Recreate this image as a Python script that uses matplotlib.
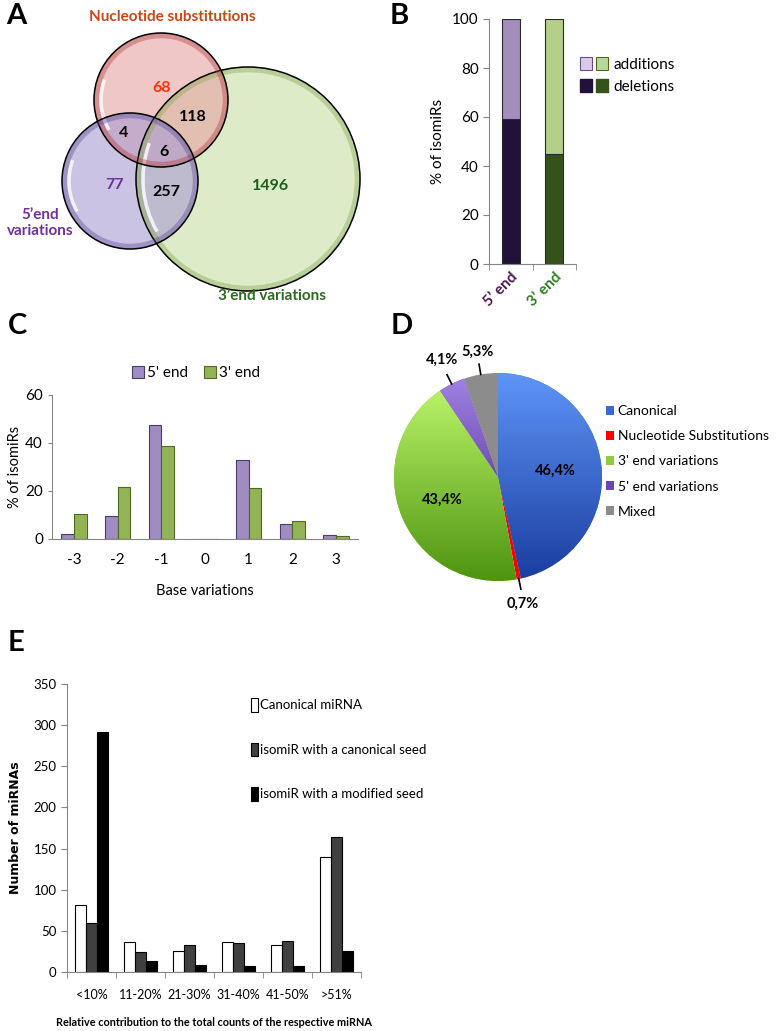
"""Multi-panel isomiR summary figure (Venn, stacked bars, grouped bars, pie)."""

import matplotlib
import matplotlib.pyplot as plt
import numpy as np
from matplotlib.colors import LinearSegmentedColormap
from matplotlib.legend_handler import HandlerTuple
from matplotlib.patches import Arc, Circle, Patch

matplotlib.use("Agg")

# ---- data -------------------------------------------------------------
# A: Venn counts
venn_sets = ["Nucleotide substitutions", "5\u2019end\nvariations", "3\u2019end variations"]
venn_counts = {"sub": 68, "five": 77, "three": 1496, "sub_five": 4,
               "sub_three": 118, "five_three": 257, "all": 6}

# B: stacked additions / deletions
b_ends = ["5\u2019 end", "3\u2019 end"]
b_deletions = [59, 45]
b_additions = [41, 55]

# C: base variations
c_positions = ["-3", "-2", "-1", "0", "1", "2", "3"]
c_five = [2.2, 9.6, 47.4, 0, 33.0, 6.3, 1.8]
c_three = [10.3, 21.5, 38.8, 0, 21.1, 7.4, 1.3]

# D: pie shares
d_labels = ["Canonical", "Nucleotide Substitutions", "3' end variations",
            "5' end variations", "Mixed"]
d_values = [46.4, 0.7, 43.4, 4.1, 5.3]
d_text = ["46,4%", "0,7%", "43,4%", "4,1%", "5,3%"]

# E: relative contribution
e_bins = ["<10%", "11-20%", "21-30%", "31-40%", "41-50%", ">51%"]
e_canonical = [82, 37, 26, 36, 33, 140]
e_can_seed = [60, 24, 33, 35, 38, 164]
e_mod_seed = [292, 13, 9, 7, 7, 26]
e_series = ["Canonical miRNA", "isomiR with a canonical seed",
            "isomiR with a modified seed"]

# ---- layout helpers -----------------------------------------------------
W, H = 777, 1031
plt.rcParams["font.family"] = ["Lato", "DejaVu Sans"]
AXIS_GREY = "#868686"

fig = plt.figure(figsize=(W / 100, H / 100), dpi=100)


def box(x0, y0, x1, y1):
    return [x0 / W, 1 - y1 / H, (x1 - x0) / W, (y1 - y0) / H]


def fpos(x, y):
    return x / W, 1 - y / H


for letter, (x, y) in zip("ABCDE", [(6, 16), (390, 16), (8, 326), (391, 326), (8, 643)]):
    fig.text(*fpos(x, y), letter, fontsize=21, fontweight="bold", va="center")

# ---- A: Venn ------------------------------------------------------------
axA = fig.add_axes(box(0, 0, 390, 320))
axA.set_xlim(0, 390)
axA.set_ylim(320, 0)
axA.axis("off")

circles = [  # (cx, cy, r, fill, rim)
    (248, 179, 112, "#c9dfa6", "#7fa648"),
    (161, 100, 67, "#e7a3a3", "#b23b3b"),
    (130, 181, 68, "#a99bd2", "#5d4996"),
]
for cx, cy, r, fill, rim in circles:
    axA.add_patch(Circle((cx, cy), r, facecolor=fill, alpha=0.6, lw=0))
for cx, cy, r, fill, rim in circles:
    axA.add_patch(Circle((cx, cy), r - 2.5, facecolor="none", edgecolor=rim,
                         alpha=0.4, lw=4))
    axA.add_patch(Arc((cx, cy), 2 * r - 14, 2 * r - 14, theta1=150, theta2=200,
                      color="white", lw=2.5, alpha=0.8))
    axA.add_patch(Circle((cx, cy), r, facecolor="none", edgecolor="black", lw=1.1))

axA.text(172, 17, venn_sets[0], color="#cc4418", fontsize=11,
         fontweight="bold", ha="center", va="center")
axA.text(40, 223, venn_sets[1], color="#7030a0", fontsize=11,
         fontweight="bold", ha="center", va="center", linespacing=1.15)
axA.text(272, 296, venn_sets[2], color="#2d6a1f", fontsize=11,
         fontweight="bold", ha="center", va="center")

num_style = dict(fontsize=11.5, fontweight="bold", ha="center", va="center")
axA.text(162, 88, venn_counts["sub"], color="#ff3300", **num_style)
axA.text(115, 185, venn_counts["five"], color="#7030a0", **num_style)
axA.text(271, 186, venn_counts["three"], color="#1e5c1e", **num_style)
axA.text(124, 133, venn_counts["sub_five"], color="black", **num_style)
axA.text(193, 117, venn_counts["sub_three"], color="black", **num_style)
axA.text(166, 192, venn_counts["five_three"], color="black", **num_style)
axA.text(164, 152, venn_counts["all"], color="black", **num_style)

# ---- B: stacked bars ----------------------------------------------------
axB = fig.add_axes(box(489, 19, 576, 264))
xb = np.arange(len(b_ends))
dark = ["#21113b", "#35521a"]
light = ["#a38dbd", "#b3cf8a"]
axB.bar(xb, b_deletions, 0.42, color=dark, edgecolor="#2a2a2a", lw=0.8)
axB.bar(xb, b_additions, 0.42, bottom=b_deletions, color=light,
        edgecolor="#2a2a2a", lw=0.8)
axB.set_xlim(-0.5, 1.5)
axB.set_ylim(0, 100)
axB.set_yticks([0, 20, 40, 60, 80, 100])
axB.tick_params(axis="y", labelsize=11, length=4, color=AXIS_GREY)
axB.set_xticks(xb)
axB.set_xticklabels(b_ends, rotation=45, ha="right", va="top",
                    rotation_mode="anchor", fontsize=11, fontweight="bold")
for lab, col in zip(axB.get_xticklabels(), ["#4d1450", "#2e7d1e"]):
    lab.set_color(col)
axB.tick_params(axis="x", length=0, pad=4)
axB.set_xticks([-0.5, 0.5, 1.5], minor=True)
axB.tick_params(axis="x", which="minor", length=4, color=AXIS_GREY)
axB.set_ylabel("% of isomiRs", fontsize=11, labelpad=5)
for s in ["top", "right"]:
    axB.spines[s].set_visible(False)
for s in ["left", "bottom"]:
    axB.spines[s].set_color(AXIS_GREY)
b_handles = [
    (Patch(fc="#d8cce8", ec="#6b4f8c", lw=0.8), Patch(fc="#b6d89a", ec="#4f6b22", lw=0.8)),
    (Patch(fc="#21113b", ec="#21113b"), Patch(fc="#35521a", ec="#35521a")),
]
axB.legend(b_handles, ["additions", "deletions"],
           handler_map={tuple: HandlerTuple(ndivide=None, pad=0.25)},
           loc="upper left", bbox_to_anchor=fpos(580, 57),
           bbox_transform=fig.transFigure, frameon=False, fontsize=11,
           handlelength=1.8, handleheight=0.9, handletextpad=0.4,
           borderpad=0, borderaxespad=0, labelspacing=0.5)

# ---- C: grouped bars ----------------------------------------------------
axC = fig.add_axes(box(52, 395, 358, 539))
xc = np.arange(len(c_positions))
wc = 0.29
axC.bar(xc - wc / 2, c_five, wc, color="#9f8cc0", edgecolor="#4b3b6e", lw=0.8,
        label="5' end")
axC.bar(xc + wc / 2, c_three, wc, color="#93b456", edgecolor="#4f6b22", lw=0.8,
        label="3' end")
axC.set_xlim(-0.5, len(c_positions) - 0.5)
axC.set_ylim(0, 60)
axC.set_yticks([0, 20, 40, 60])
axC.set_xticks(xc)
axC.set_xticklabels(c_positions)
axC.tick_params(axis="x", length=0, labelsize=11, pad=10)
axC.tick_params(axis="y", length=3, labelsize=11, color=AXIS_GREY)
axC.set_xlabel("Base variations", fontsize=10.5, labelpad=12)
axC.set_ylabel("% of isomiRs", fontsize=10.5, labelpad=2)
for s in ["top", "right"]:
    axC.spines[s].set_visible(False)
for s in ["left", "bottom"]:
    axC.spines[s].set_color(AXIS_GREY)
axC.legend(loc="center", bbox_to_anchor=fpos(196, 373),
           bbox_transform=fig.transFigure, ncol=2, frameon=False,
           fontsize=11, handlelength=0.8, handleheight=0.8,
           handletextpad=0.2, columnspacing=1.0)

# ---- D: pie -------------------------------------------------------------
axD = fig.add_axes(box(394, 373, 602, 581))
flat = ["#3f6fe0", "#ff0000", "#8fd13c", "#6a44b4", "#8c8c8c"]
wedges, _ = axD.pie(d_values, colors=flat, startangle=90, counterclock=False,
                    radius=1.0, wedgeprops=dict(lw=0))
gradients = {0: ("#5e95f7", "#1a3c9f"), 2: ("#c2fb6f", "#4e9410"),
             3: ("#a283e6", "#3a1b7a")}
grad = np.linspace(0, 1, 256)[:, None]
for i, (top, bottom) in gradients.items():
    cmap = LinearSegmentedColormap.from_list(f"g{i}", [top, bottom])
    im = axD.imshow(grad, extent=(-1, 1, -1, 1), cmap=cmap, origin="upper",
                    aspect="auto", zorder=wedges[i].get_zorder() + 0.1)
    im.set_clip_path(wedges[i])
axD.set_xlim(-1, 1)
axD.set_ylim(-1, 1)
axD.set_aspect("equal")
axD.axis("off")
inside = {0: 0.55, 2: 0.58}
for i, w in enumerate(wedges):
    ang = np.deg2rad((w.theta1 + w.theta2) / 2)
    c, s = np.cos(ang), np.sin(ang)
    if i in inside:
        r = inside[i]
        axD.text(r * c, r * s, d_text[i], fontsize=10.5, fontweight="bold",
                 ha="center", va="center")
    else:
        r_txt = 1.2 if i != 4 else 1.17
        axD.plot([1.0 * c, 1.1 * c], [1.0 * s, 1.1 * s], color="black", lw=1.2,
                 clip_on=False)
        axD.text(r_txt * c, r_txt * s + (0.05 if s > 0 else -0.04), d_text[i],
                 fontsize=10.5, fontweight="bold", ha="center", va="center")
d_handles = [Patch(fc=c) for c in ["#3a68d8", "#ff0000", "#8ccf3e", "#6b45b5", "#8c8c8c"]]
axD.legend(d_handles, d_labels, loc="upper left", bbox_to_anchor=fpos(606, 405),
           bbox_transform=fig.transFigure, frameon=False, fontsize=10,
           handlelength=0.6, handleheight=0.6, handletextpad=0.25,
           borderpad=0, borderaxespad=0, labelspacing=0.95)

# ---- E: grouped bars ----------------------------------------------------
axE = fig.add_axes(box(67, 684, 361, 972))
xe = np.arange(len(e_bins))
we = 0.225
axE.bar(xe - we, e_canonical, we, color="white", edgecolor="black", lw=0.8,
        label=e_series[0])
axE.bar(xe, e_can_seed, we, color="#404040", edgecolor="black", lw=0.8,
        label=e_series[1])
axE.bar(xe + we, e_mod_seed, we, color="black", edgecolor="black", lw=0.8,
        label=e_series[2])
axE.set_xlim(-0.5, len(e_bins) - 0.5)
axE.set_ylim(0, 350)
axE.set_yticks(np.arange(0, 351, 50))
axE.set_xticks(xe)
axE.set_xticklabels(e_bins)
axE.tick_params(axis="x", length=0, labelsize=9, pad=12)
axE.tick_params(axis="y", length=4, labelsize=9.5, color=AXIS_GREY)
axE.set_xticks(np.arange(-0.5, len(e_bins)), minor=True)
axE.tick_params(axis="x", which="minor", length=4, color=AXIS_GREY)
axE.set_ylabel("Number of miRNAs", fontsize=9, fontweight="bold",
               family=["DejaVu Sans"], labelpad=8)
axE.set_xlabel("Relative contribution to the total counts of the respective miRNA",
               fontsize=7.8, fontweight="bold", labelpad=12)
for s in ["top", "right"]:
    axE.spines[s].set_visible(False)
for s in ["left", "bottom"]:
    axE.spines[s].set_color(AXIS_GREY)
axE.legend(loc="upper left", bbox_to_anchor=fpos(251, 698),
           bbox_transform=fig.transFigure, frameon=False, fontsize=9.5,
           handlelength=0.5, handleheight=1.2, handletextpad=0.15,
           borderpad=0, borderaxespad=0, labelspacing=2.35)

fig.savefig("out.png", dpi=100)
plt.close(fig)
